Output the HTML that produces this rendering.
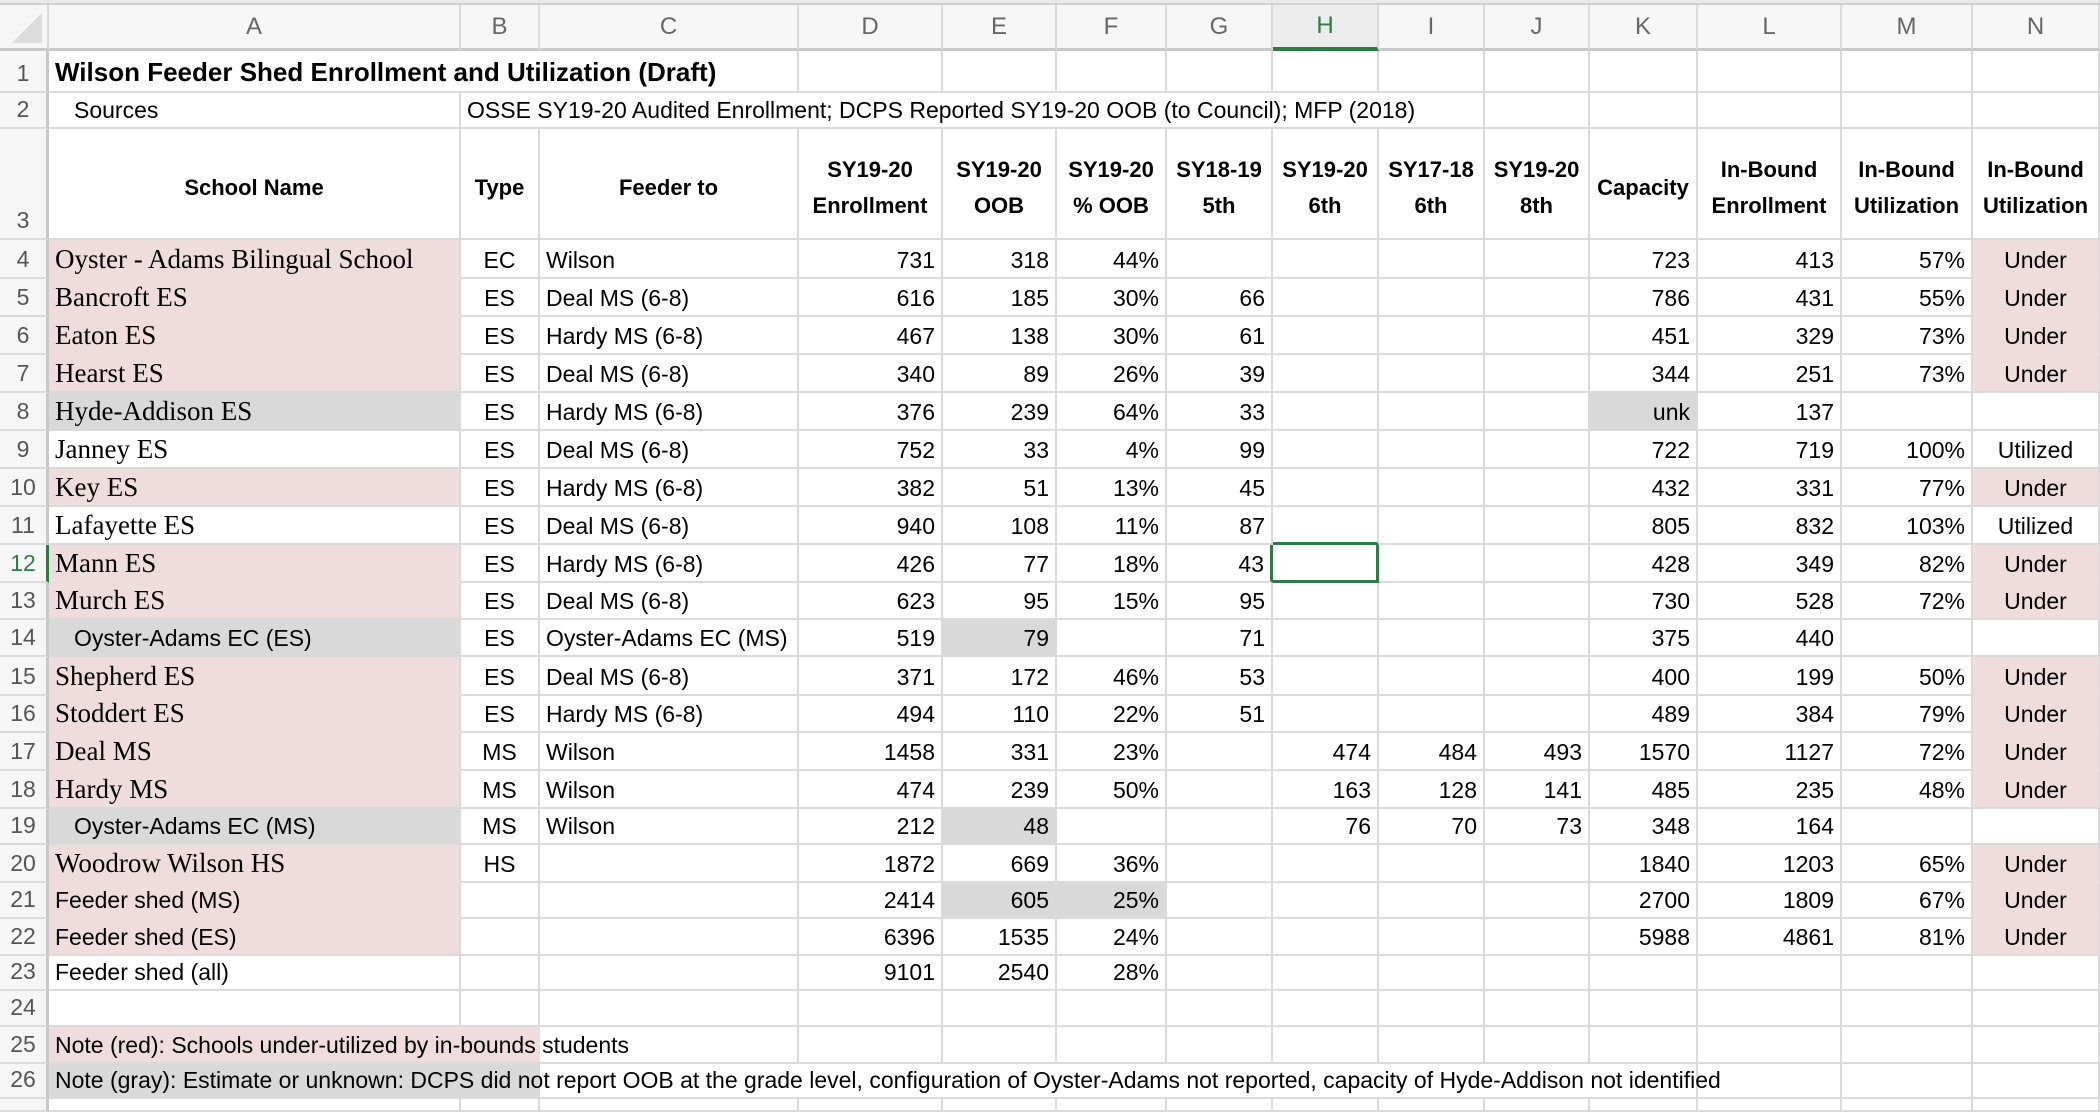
<!DOCTYPE html>
<html><head><meta charset="utf-8">
<style>
*{box-sizing:border-box;margin:0;padding:0}
html,body{width:2100px;height:1112px;overflow:hidden;background:#fff}
.g{display:grid;width:2100px;height:1112px;
grid-template-columns:49px 412px 79px 259px 144px 114px 110px 106px 106px 106px 105px 108px 144px 131px 127px;
grid-template-rows:5px 46px 42px 36px 111px 39px 38px 38px 38px 38px 38px 38px 38px 38px 37px 37px 39px 37px 38px 38px 36px 38px 36px 37px 35px 36px 37px 35px 13px;
font-family:"Liberation Sans",sans-serif;font-size:23px;color:#000}
.g>div{border-right:2px solid #dadada;border-bottom:2px solid #dadada;display:flex;align-items:flex-end;padding:0 6px 3px 6px;white-space:nowrap;overflow:visible;min-width:0}
.top{grid-column:1/16;background:#e9e9e9;border-bottom:2px solid #d0d0d0 !important;border-right:none !important}
.ch{background:#f6f6f6;justify-content:center;align-items:center !important;color:#666;font-size:24px;border-bottom:3px solid #c8c8c8 !important;padding:0 !important}
.ch.sel{background:#ececec;color:#2f7a45;border-bottom:4px solid #2f7a45 !important}
.cor{background:#f6f6f6;border-bottom:3px solid #c8c8c8 !important;position:relative}
.cor:after{content:"";position:absolute;right:5px;bottom:5px;border-left:30px solid transparent;border-bottom:30px solid #dcdcdc}
.n{background:#f6f6f6;color:#555;justify-content:center;padding:0 0 4px 0 !important;font-size:23px;border-right:3px solid #c8c8c8 !important}
.n.sel{color:#2f7a45;border-right:3px solid #2f7a45 !important}
.r{justify-content:flex-end}
.c{justify-content:center}
.s{font-family:"Liberation Serif",serif;font-size:27px;padding-bottom:2px !important}
.b{font-weight:bold}
.pk{background:#efdddd;border-bottom-color:#efdddd !important}
.gy{background:#d9d9d9;border-bottom-color:#d9d9d9 !important}
.ind{padding-left:25px !important}
.h3{flex-direction:column;align-items:center !important;justify-content:center;font-weight:bold;line-height:36px;padding:8px 2px 0 2px !important;text-align:center;font-size:22px}
</style></head><body>
<div class="g">
<div class="top"></div>
<div class="cor"></div><div class="ch">A</div><div class="ch">B</div><div class="ch">C</div><div class="ch">D</div><div class="ch">E</div><div class="ch">F</div><div class="ch">G</div><div class="ch sel">H</div><div class="ch">I</div><div class="ch">J</div><div class="ch">K</div><div class="ch">L</div><div class="ch">M</div><div class="ch">N</div>

<div class="n">1</div><div class="b" style="grid-column:span 3;font-size:26px">Wilson Feeder Shed Enrollment and Utilization (Draft)</div><div></div><div></div><div></div><div></div><div></div><div></div><div></div><div></div><div></div><div></div><div></div>

<div class="n">2</div><div class="ind">Sources</div><div style="grid-column:span 8">OSSE SY19-20 Audited Enrollment; DCPS Reported SY19-20 OOB (to Council); MFP (2018)</div><div></div><div></div><div></div><div></div><div></div>

<div class="n">3</div><div class="h3">School Name</div><div class="h3">Type</div><div class="h3">Feeder to</div><div class="h3"><span>SY19-20</span><span>Enrollment</span></div><div class="h3"><span>SY19-20</span><span>OOB</span></div><div class="h3"><span>SY19-20</span><span>% OOB</span></div><div class="h3"><span>SY18-19</span><span>5th</span></div><div class="h3"><span>SY19-20</span><span>6th</span></div><div class="h3"><span>SY17-18</span><span>6th</span></div><div class="h3"><span>SY19-20</span><span>8th</span></div><div class="h3">Capacity</div><div class="h3"><span>In-Bound</span><span>Enrollment</span></div><div class="h3"><span>In-Bound</span><span>Utilization</span></div><div class="h3"><span>In-Bound</span><span>Utilization</span></div>

<div class="n">4</div><div class="s pk">Oyster - Adams Bilingual School</div><div class="c">EC</div><div>Wilson</div><div class="r">731</div><div class="r">318</div><div class="r">44%</div><div></div><div></div><div></div><div></div><div class="r">723</div><div class="r">413</div><div class="r">57%</div><div class="c pk">Under</div>

<div class="n">5</div><div class="s pk">Bancroft ES</div><div class="c">ES</div><div>Deal MS (6-8)</div><div class="r">616</div><div class="r">185</div><div class="r">30%</div><div class="r">66</div><div></div><div></div><div></div><div class="r">786</div><div class="r">431</div><div class="r">55%</div><div class="c pk">Under</div>

<div class="n">6</div><div class="s pk">Eaton ES</div><div class="c">ES</div><div>Hardy MS (6-8)</div><div class="r">467</div><div class="r">138</div><div class="r">30%</div><div class="r">61</div><div></div><div></div><div></div><div class="r">451</div><div class="r">329</div><div class="r">73%</div><div class="c pk">Under</div>

<div class="n">7</div><div class="s pk" style="border-bottom-color:#dadada !important">Hearst ES</div><div class="c">ES</div><div>Deal MS (6-8)</div><div class="r">340</div><div class="r">89</div><div class="r">26%</div><div class="r">39</div><div></div><div></div><div></div><div class="r">344</div><div class="r">251</div><div class="r">73%</div><div class="c pk" style="border-bottom-color:#dadada !important">Under</div>

<div class="n">8</div><div class="s gy">Hyde-Addison ES</div><div class="c">ES</div><div>Hardy MS (6-8)</div><div class="r">376</div><div class="r">239</div><div class="r">64%</div><div class="r">33</div><div></div><div></div><div></div><div class="r gy">unk</div><div class="r">137</div><div></div><div></div>

<div class="n">9</div><div class="s">Janney ES</div><div class="c">ES</div><div>Deal MS (6-8)</div><div class="r">752</div><div class="r">33</div><div class="r">4%</div><div class="r">99</div><div></div><div></div><div></div><div class="r">722</div><div class="r">719</div><div class="r">100%</div><div class="c">Utilized</div>

<div class="n">10</div><div class="s pk" style="border-bottom-color:#dadada !important">Key ES</div><div class="c">ES</div><div>Hardy MS (6-8)</div><div class="r">382</div><div class="r">51</div><div class="r">13%</div><div class="r">45</div><div></div><div></div><div></div><div class="r">432</div><div class="r">331</div><div class="r">77%</div><div class="c pk" style="border-bottom-color:#dadada !important">Under</div>

<div class="n">11</div><div class="s">Lafayette ES</div><div class="c">ES</div><div>Deal MS (6-8)</div><div class="r">940</div><div class="r">108</div><div class="r">11%</div><div class="r">87</div><div style="border-bottom:3px solid #2f7a45"></div><div></div><div></div><div class="r">805</div><div class="r">832</div><div class="r">103%</div><div class="c">Utilized</div>

<div class="n sel">12</div><div class="s pk">Mann ES</div><div class="c">ES</div><div>Hardy MS (6-8)</div><div class="r">426</div><div class="r">77</div><div class="r">18%</div><div class="r" style="border-right:3px solid #2f7a45">43</div><div style="border-bottom:3px solid #2f7a45;border-right:3px solid #2f7a45"></div><div></div><div></div><div class="r">428</div><div class="r">349</div><div class="r">82%</div><div class="c pk">Under</div>

<div class="n">13</div><div class="s pk" style="border-bottom-color:#dadada !important">Murch ES</div><div class="c">ES</div><div>Deal MS (6-8)</div><div class="r">623</div><div class="r">95</div><div class="r">15%</div><div class="r">95</div><div></div><div></div><div></div><div class="r">730</div><div class="r">528</div><div class="r">72%</div><div class="c pk" style="border-bottom-color:#dadada !important">Under</div>

<div class="n">14</div><div class="gy ind" style="border-bottom-color:#dadada !important">Oyster-Adams EC (ES)</div><div class="c">ES</div><div>Oyster-Adams EC (MS)</div><div class="r">519</div><div class="r gy" style="border-bottom-color:#dadada !important">79</div><div></div><div class="r">71</div><div></div><div></div><div></div><div class="r">375</div><div class="r">440</div><div></div><div></div>

<div class="n">15</div><div class="s pk">Shepherd ES</div><div class="c">ES</div><div>Deal MS (6-8)</div><div class="r">371</div><div class="r">172</div><div class="r">46%</div><div class="r">53</div><div></div><div></div><div></div><div class="r">400</div><div class="r">199</div><div class="r">50%</div><div class="c pk">Under</div>

<div class="n">16</div><div class="s pk">Stoddert ES</div><div class="c">ES</div><div>Hardy MS (6-8)</div><div class="r">494</div><div class="r">110</div><div class="r">22%</div><div class="r">51</div><div></div><div></div><div></div><div class="r">489</div><div class="r">384</div><div class="r">79%</div><div class="c pk">Under</div>

<div class="n">17</div><div class="s pk">Deal MS</div><div class="c">MS</div><div>Wilson</div><div class="r">1458</div><div class="r">331</div><div class="r">23%</div><div></div><div class="r">474</div><div class="r">484</div><div class="r">493</div><div class="r">1570</div><div class="r">1127</div><div class="r">72%</div><div class="c pk">Under</div>

<div class="n">18</div><div class="s pk" style="border-bottom-color:#dadada !important">Hardy MS</div><div class="c">MS</div><div>Wilson</div><div class="r">474</div><div class="r">239</div><div class="r">50%</div><div></div><div class="r">163</div><div class="r">128</div><div class="r">141</div><div class="r">485</div><div class="r">235</div><div class="r">48%</div><div class="c pk" style="border-bottom-color:#dadada !important">Under</div>

<div class="n">19</div><div class="gy ind" style="border-bottom-color:#dadada !important">Oyster-Adams EC (MS)</div><div class="c">MS</div><div>Wilson</div><div class="r">212</div><div class="r gy" style="border-bottom-color:#dadada !important">48</div><div></div><div></div><div class="r">76</div><div class="r">70</div><div class="r">73</div><div class="r">348</div><div class="r">164</div><div></div><div></div>

<div class="n">20</div><div class="s pk">Woodrow Wilson HS</div><div class="c">HS</div><div></div><div class="r">1872</div><div class="r">669</div><div class="r">36%</div><div></div><div></div><div></div><div></div><div class="r">1840</div><div class="r">1203</div><div class="r">65%</div><div class="c pk">Under</div>

<div class="n">21</div><div class="pk">Feeder shed (MS)</div><div></div><div></div><div class="r">2414</div><div class="r gy" style="border-right-color:#d9d9d9;border-bottom-color:#dadada !important">605</div><div class="r gy" style="border-bottom-color:#dadada !important">25%</div><div></div><div></div><div></div><div></div><div class="r">2700</div><div class="r">1809</div><div class="r">67%</div><div class="c pk">Under</div>

<div class="n">22</div><div class="pk" style="border-bottom-color:#dadada !important">Feeder shed (ES)</div><div></div><div></div><div class="r">6396</div><div class="r">1535</div><div class="r">24%</div><div></div><div></div><div></div><div></div><div class="r">5988</div><div class="r">4861</div><div class="r">81%</div><div class="c pk" style="border-bottom-color:#dadada !important">Under</div>

<div class="n">23</div><div>Feeder shed (all)</div><div></div><div></div><div class="r">9101</div><div class="r">2540</div><div class="r">28%</div><div></div><div></div><div></div><div></div><div></div><div></div><div></div><div></div>

<div class="n">24</div><div></div><div></div><div></div><div></div><div></div><div></div><div></div><div></div><div></div><div></div><div></div><div></div><div></div><div></div>

<div class="n">25</div><div style="grid-column:span 3;background:linear-gradient(to right,#efdddd 491px,#fff 491px)">Note (red): Schools under-utilized by in-bounds students</div><div></div><div></div><div></div><div></div><div></div><div></div><div></div><div></div><div></div><div></div><div></div>

<div class="n">26</div><div style="grid-column:span 11;background:linear-gradient(to right,#d9d9d9 491px,#fff 491px)">Note (gray): Estimate or unknown: DCPS did not report OOB at the grade level, configuration of Oyster-Adams not reported, capacity of Hyde-Addison not identified</div><div></div><div></div><div></div>

<div class="n" style="font-size:0"></div><div></div><div></div><div></div><div></div><div></div><div></div><div></div><div></div><div></div><div></div><div></div><div></div><div></div><div></div>
</div>
</body></html>
